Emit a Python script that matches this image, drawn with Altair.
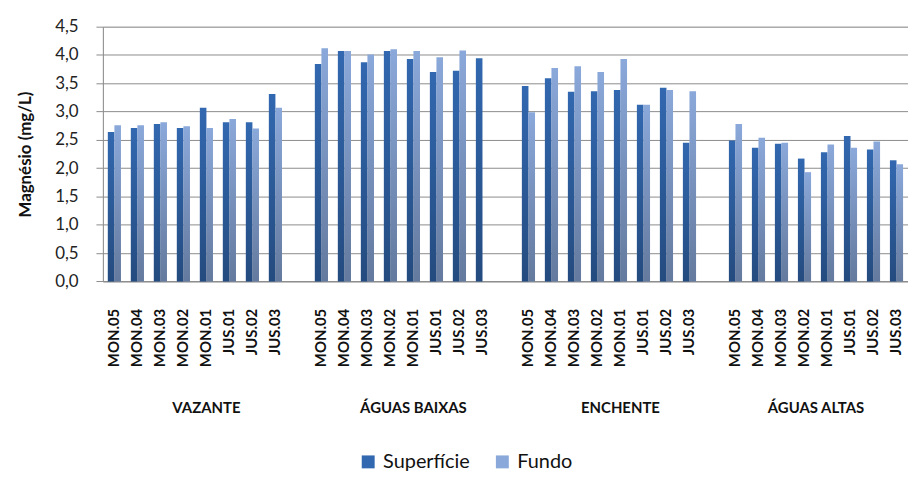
import altair as alt
import pandas as pd

groups = ["VAZANTE", "ÁGUAS BAIXAS", "ENCHENTE", "ÁGUAS ALTAS"]
stations = ["MON.05", "MON.04", "MON.03", "MON.02", "MON.01", "JUS.01", "JUS.02", "JUS.03"]
series = ["Superfície", "Fundo"]

sup_vazante = [2.64, 2.71, 2.78, 2.71, 3.07, 2.81, 2.81, 3.31]
sup_baixas = [3.84, 4.07, 3.87, 4.07, 3.93, 3.70, 3.72, 3.94]
sup_enchente = [3.45, 3.59, 3.35, 3.36, 3.38, 3.12, 3.42, 2.45]
sup_altas = [2.49, 2.36, 2.43, 2.17, 2.28, 2.57, 2.33, 2.14]

fun_vazante = [2.76, 2.76, 2.81, 2.74, 2.71, 2.87, 2.70, 3.07]
fun_baixas = [4.12, 4.07, 4.01, 4.10, 4.07, 3.96, 4.08, None]
fun_enchente = [2.99, 3.77, 3.80, 3.70, 3.93, 3.12, 3.38, 3.36]
fun_altas = [2.78, 2.54, 2.45, 1.93, 2.42, 2.36, 2.47, 2.07]

y_ticks = [0, 0.5, 1.0, 1.5, 2.0, 2.5, 3.0, 3.5, 4.0, 4.5]

sup = [sup_vazante, sup_baixas, sup_enchente, sup_altas]
fun = [fun_vazante, fun_baixas, fun_enchente, fun_altas]

# category slots (with an empty slot between groups)
slots = []
group_rows = []
for gi, g in enumerate(groups):
    start = len(slots)
    for s in stations:
        slots.append(f"{g}|{s}")
    if gi < len(groups) - 1:
        slots.append(f"gap{gi}")
    end = len(slots)
    group_rows.append({"grupo": g, "centro": (start + end) / 2})
n_slots = len(slots)

rows = []
for gi, g in enumerate(groups):
    for si, s in enumerate(stations):
        for name, vals in (("Superfície", sup[gi]), ("Fundo", fun[gi])):
            v = vals[si]
            if v is not None:
                rows.append({"slot": f"{g}|{s}", "serie": name, "valor": v})
df = pd.DataFrame(rows)
gdf = pd.DataFrame(group_rows)

FONT = "Lato"
W = 810.25
H = 256.4

x_enc = alt.X(
    "slot:N",
    scale=alt.Scale(domain=slots, paddingInner=0, paddingOuter=0),
    axis=alt.Axis(
        title=None,
        labelExpr="indexof(datum.value, '|') >= 0 ? split(datum.value, '|')[1] : ''",
        labelAngle=-90,
        labelFont=FONT,
        labelFontSize=15,
        labelFontWeight="bold",
        labelColor="#111111",
        labelPadding=27,
        ticks=False,
        grid=False,
        domainColor="#8c8c8c",
        labelOverlap=False,
    ),
)
xoff_enc = alt.XOffset(
    "serie:N",
    scale=alt.Scale(domain=series, paddingInner=0, paddingOuter=0.75),
)
y_enc = alt.Y(
    "valor:Q",
    scale=alt.Scale(domain=[0, 4.5], nice=False),
    axis=alt.Axis(
        values=y_ticks,
        labelExpr="replace(format(datum.value, '.1f'), '.', ',')",
        labelFont=FONT,
        labelFontSize=17,
        labelColor="#222222",
        labelPadding=18,
        tickSize=7,
        tickColor="#8c8c8c",
        domainColor="#8c8c8c",
        gridColor="#8c8c8c",
        title="Magnésio (mg/L)",
        titleFont=FONT,
        titleFontSize=17,
        titleFontWeight="bold",
        titleColor="#111111",
        titlePadding=20,
    ),
)

bars = alt.Chart(df).mark_bar().encode(
    x=x_enc,
    xOffset=xoff_enc,
    y=y_enc,
    color=alt.Color(
        "serie:N",
        scale=alt.Scale(domain=series, range=["#3268B0", "#8AA8DA"]),
        legend=alt.Legend(
            orient="none",
            legendX=257,
            legendY=428,
            direction="horizontal",
            title=None,
            symbolType="square",
            symbolSize=169,
            symbolStrokeWidth=0,
            labelFont=FONT,
            labelFontSize=20,
            labelColor="#111111",
            labelOffset=5,
            columnPadding=22,
            padding=0,
        ),
    ),
)

shade = alt.Gradient(
    gradient="linear",
    stops=[
        alt.GradientStop(color="rgba(0,0,0,0)", offset=0),
        alt.GradientStop(color="rgba(0,0,0,0.28)", offset=1),
    ],
    x1=0, x2=0, y1=0, y2=1,
)
overlay = alt.Chart(df).mark_bar(fill=shade).encode(
    x=x_enc,
    xOffset=xoff_enc,
    y=y_enc,
)

text = alt.Chart(gdf).mark_text(
    font=FONT, fontSize=15, fontWeight="bold", color="#111111", baseline="middle", align="center"
).encode(
    x=alt.X("centro:Q", scale=alt.Scale(domain=[0, n_slots], nice=False, zero=False), axis=None),
    y=alt.value(384),
    text="grupo:N",
)

chart = (
    alt.layer(alt.layer(bars, overlay), text)
    .resolve_scale(x="independent")
    .properties(
        width=W,
        height=H,
        autosize=alt.AutoSizeParams(type="none"),
        padding={"left": 95.5, "top": 17.3, "right": 0, "bottom": 194},
    )
    .configure_view(stroke=None)
    .configure(background="white")
)

chart.save("out.html", embed_options={"renderer": "svg", "actions": False})
